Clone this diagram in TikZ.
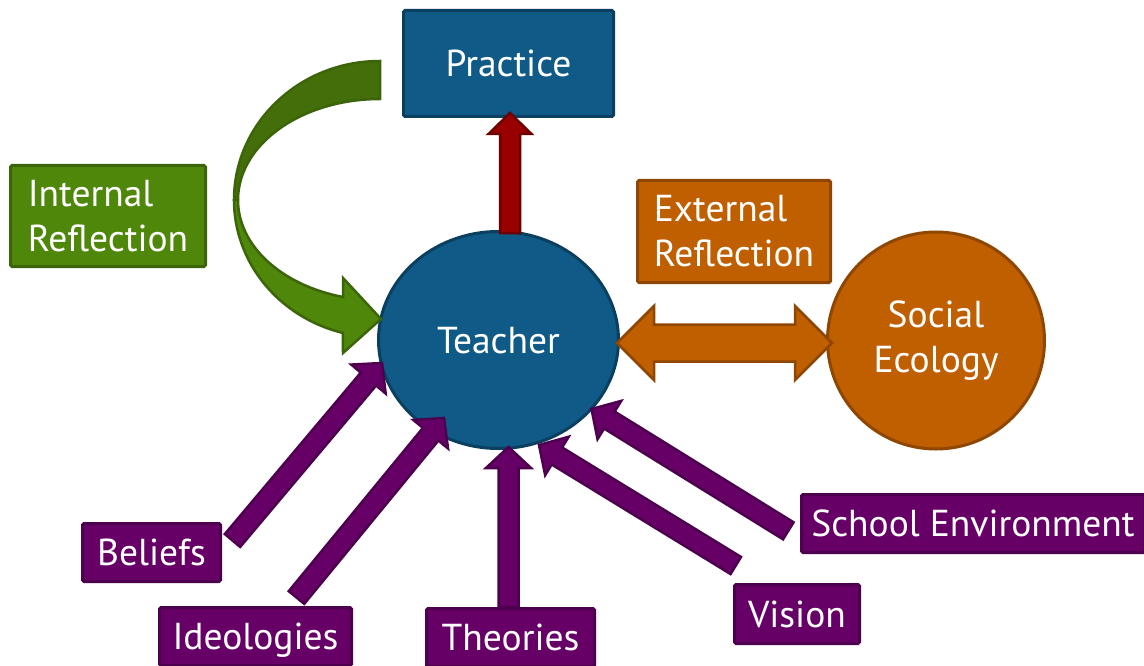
\documentclass[tikz,border=0pt]{standalone}
\usepackage{fontspec}
\setmainfont{PT Sans}
\usetikzlibrary{calc,shapes.geometric}

\definecolor{tealfill}{HTML}{0F5A87}
\definecolor{tealedge}{HTML}{0B3F60}
\definecolor{redfill}{HTML}{990000}
\definecolor{rededge}{HTML}{6E0000}
\definecolor{greenfill}{HTML}{4F870B}
\definecolor{greenback}{HTML}{436E09}
\definecolor{greenedge}{HTML}{3C6509}
\definecolor{orangefill}{HTML}{BF5F00}
\definecolor{orangeedge}{HTML}{8E4600}
\definecolor{purplefill}{HTML}{660066}
\definecolor{purpleedge}{HTML}{4D004D}

% block arrow from #2 to #3: style, half shaft, half head, head length
\newcommand\blockarrowpath[6]{%
  \coordinate (ba-head) at ($(#3)!#6!(#2)$);
  \filldraw[#1] ($(#2)!#4!90:(#3)$) -- ($(ba-head)!#4!90:(#3)$) -- ($(ba-head)!#5!90:(#3)$) -- (#3)
    -- ($(ba-head)!#5!-90:(#3)$) -- ($(ba-head)!#4!-90:(#3)$) -- ($(#2)!#4!-90:(#3)$) -- cycle;}

% block arrow with heads at both ends
\newcommand\doubleblockarrowpath[6]{%
  \coordinate (ba-ha) at ($(#2)!#6!(#3)$);
  \coordinate (ba-hb) at ($(#3)!#6!(#2)$);
  \filldraw[#1] (#2) -- ($(ba-ha)!#5!90:(#3)$) -- ($(ba-ha)!#4!90:(#3)$) -- ($(ba-hb)!#4!90:(#3)$)
    -- ($(ba-hb)!#5!90:(#3)$) -- (#3) -- ($(ba-hb)!#5!-90:(#3)$) -- ($(ba-hb)!#4!-90:(#3)$)
    -- ($(ba-ha)!#4!-90:(#3)$) -- ($(ba-ha)!#5!-90:(#3)$) -- cycle;}

\begin{document}
\begin{tikzpicture}[x=1pt,y=-1pt,
  lbl/.style={text=white, font=\fontsize{37.5}{45}\selectfont, inner sep=0pt, align=left},
  panel/.style={lbl, rectangle, rounded corners=1.5pt, line width=3pt},
  oneline/.style={text height=26pt, text depth=0pt},
  bluepanel/.style={panel, fill=tealfill, draw=tealedge},
  greenpanel/.style={panel, fill=greenfill, draw=greenedge},
  orangepanel/.style={panel, fill=orangefill, draw=orangeedge},
  purplepanel/.style={panel, oneline, fill=purplefill, draw=purpleedge, minimum height=58pt},
  redarrow/.style={fill=redfill, draw=rededge, line width=2.5pt},
  orangearrow/.style={fill=orangefill, draw=orangeedge, line width=2.5pt},
  purplearrow/.style={fill=purplefill, draw=purpleedge, line width=2.5pt},
  greenarrow/.style={fill=greenfill, draw=greenedge, line width=2.5pt},
  greenbackarrow/.style={fill=greenback, draw=greenedge, line width=2.5pt}]

\clip (0,0) rectangle (1144,666);
\fill[white] (0,0) rectangle (1144,666);

% main nodes
\node[bluepanel, oneline, minimum width=210pt, minimum height=106pt] (practice) at (508.5,63.5) {Practice};
\node[lbl, oneline, ellipse, fill=tealfill, draw=tealedge, line width=3pt,
      minimum width=240pt, minimum height=217pt] (teacher) at (498.5,340) {Teacher};
\node[lbl, circle, fill=orangefill, draw=orangeedge, line width=3pt, align=center,
      minimum size=217pt] (social) at (936,340.5) {Social\\Ecology};

\node[greenpanel, minimum width=195pt, minimum height=101pt] (internal) at (108,216) {Internal\\Reflection};
\node[orangepanel, minimum width=193pt, minimum height=102pt] (external) at (734,231.5) {External\\Reflection};

\node[purplepanel, minimum width=138pt] (beliefs) at (151.5,552.5) {Beliefs};
\node[purplepanel, minimum width=192pt] (ideologies) at (255.5,636.5) {Ideologies};
\node[purplepanel, minimum width=168pt] (theories) at (510.5,637.5) {Theories};
\node[purplepanel, minimum width=125pt, minimum height=59pt] (vision) at (797,614) {Vision};
\node[purplepanel, minimum width=343pt] (school) at (973,523.5) {School Environment};

% teacher -> practice
\coordinate (redtail) at ($(teacher.north)+(11.5,3)$);
\coordinate (redtip) at ($(practice.south)+(1.5,-5)$);
\blockarrowpath{redarrow}{redtail}{redtip}{10pt}{21.5pt}{21pt}

% internal reflection loop: ribbon turning back into the teacher
\coordinate (loopc) at (380,200);
\filldraw[greenarrow] ($(loopc)+(-146,0)$) arc[start angle=180, end angle=104.7, x radius=146, y radius=137.5]
  -- (343,353) -- ($(teacher.west)+(4,-21)$) -- (343,278) -- (343,297)
  arc[start angle=105.1, end angle=180, x radius=142, y radius=100.5] -- cycle;
\filldraw[greenbackarrow] (380,61) arc[start angle=270, end angle=180, x radius=146, y radius=139]
  -- ($(loopc)+(-142,0)$) arc[start angle=180, end angle=270, x radius=142, y radius=101] -- cycle;

% external reflection
\coordinate (extl) at ($(teacher.east)+(-3,3)$);
\coordinate (extr) at ($(social.west)+(6,2.5)$);
\doubleblockarrowpath{orangearrow}{extl}{extr}{18.5pt}{37pt}{37pt}

% influences on the teacher
\coordinate (beliefstail) at (232.5,540.5);
\coordinate (beliefstip) at ($(teacher.center)+(-116.5,23)$);
\coordinate (ideotail) at (296.5,597.5);
\coordinate (ideotip) at ($(teacher.center)+(-54.5,78)$);
\coordinate (theotail) at ($(theories.north)+(-2,0)$);
\coordinate (theotip) at ($(teacher.center)+(10,107)$);
\coordinate (visiontail) at (735.8,565.5);
\coordinate (visiontip) at ($(teacher.center)+(40.5,105)$);
\coordinate (schooltail) at (788.3,530.8);
\coordinate (schooltip) at ($(teacher.center)+(93,69)$);
\blockarrowpath{purplearrow}{beliefstail}{beliefstip}{10pt}{22.5pt}{21pt}
\blockarrowpath{purplearrow}{ideotail}{ideotip}{10pt}{22.5pt}{21pt}
\blockarrowpath{purplearrow}{theotail}{theotip}{10pt}{22.5pt}{21pt}
\blockarrowpath{purplearrow}{visiontail}{visiontip}{10pt}{22.5pt}{21pt}
\blockarrowpath{purplearrow}{schooltail}{schooltip}{10pt}{22.5pt}{21pt}
\end{tikzpicture}
\end{document}
